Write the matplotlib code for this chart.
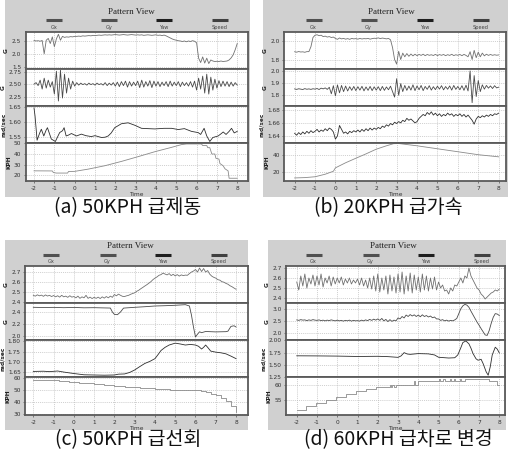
import numpy as np
import matplotlib
matplotlib.use("Agg")
import matplotlib.pyplot as plt
from matplotlib.patches import Rectangle
from matplotlib.lines import Line2D

# ---------------- data ----------------
time_grid = np.round(np.arange(-20, 81) / 10.0, 1)   # -2.0 ... 8.0 s, 0.1 s step
x_ticks = [-2, -1, 0, 1, 2, 3, 4, 5, 6, 7, 8]
channel_names = ["Gx", "Gy", "Yaw", "Speed"]
unit_labels = ["G", "G", "rad/sec", "KPH"]
captions = ["(a) 50KPH 급제동", "(b) 20KPH 급가속", "(c) 50KPH 급선회", "(d) 60KPH 급차로 변경"]

# (a) 50KPH 급제동
a_gx = [2.54, 2.52, 2.53, 2.51, 2.54, 2.02, 2.55, 2.62, 2.42, 2.68,
        2.30, 2.60, 2.78, 2.55, 2.70, 2.66, 2.68, 2.67, 2.69, 2.68,
        2.70, 2.70, 2.71, 2.70, 2.72, 2.71, 2.72, 2.73, 2.72, 2.74,
        2.73, 2.74, 2.75, 2.74, 2.75, 2.76, 2.75, 2.76, 2.75, 2.76,
        2.77, 2.76, 2.75, 2.76, 2.77, 2.76, 2.75, 2.76, 2.77, 2.76,
        2.75, 2.76, 2.75, 2.76, 2.74, 2.75, 2.76, 2.75, 2.74, 2.75,
        2.76, 2.74, 2.75, 2.73, 2.75, 2.72, 2.68, 2.64, 2.60, 2.57,
        2.55, 2.53, 2.52, 2.50, 2.52, 2.49, 2.52, 2.50, 2.53, 2.51,
        2.45, 1.85, 1.68, 1.90, 1.66, 1.85, 1.64, 1.78, 1.74, 1.72,
        1.73, 1.72, 1.74, 1.72, 1.73, 1.74, 1.78, 1.86, 1.98, 2.18,
        2.42]
a_gy = [2.50, 2.53, 2.47, 2.58, 2.40, 2.62, 2.42, 2.58, 2.44, 2.55,
        2.30, 2.76, 2.16, 2.78, 2.22, 2.70, 2.32, 2.62, 2.40, 2.56,
        2.46, 2.53, 2.48, 2.52, 2.49, 2.51, 2.48, 2.52, 2.49, 2.51,
        2.48, 2.52, 2.49, 2.51, 2.48, 2.53, 2.47, 2.52, 2.48, 2.53,
        2.46, 2.54, 2.45, 2.55, 2.47, 2.56, 2.44, 2.55, 2.46, 2.54,
        2.47, 2.56, 2.43, 2.58, 2.44, 2.55, 2.46, 2.57, 2.43, 2.56,
        2.46, 2.55, 2.45, 2.54, 2.47, 2.55, 2.45, 2.56, 2.46, 2.54,
        2.47, 2.55, 2.45, 2.54, 2.47, 2.53, 2.46, 2.55, 2.44, 2.56,
        2.38, 2.62, 2.40, 2.66, 2.32, 2.70, 2.30, 2.64, 2.38, 2.60,
        2.42, 2.57, 2.45, 2.56, 2.46, 2.55, 2.45, 2.54, 2.46, 2.53,
        2.48]
a_yaw_t = [-2.0, -1.95, -1.85, -1.72, -1.64, -1.52, -1.4, -1.34, -1.15, -0.95, -0.74, -0.6,
           -0.52, -0.42, -0.3, -0.16, 0.09, 0.33, 0.55, 0.82, 1.0, 1.32, 1.5, 1.65, 1.8, 1.97,
           2.3, 2.63, 2.96, 3.29, 3.6, 3.95, 4.4, 4.77, 5.1, 5.4, 5.75, 6.08, 6.2, 6.37, 6.5,
           6.65, 6.8, 7.06, 7.2, 7.31, 7.45, 7.6, 7.72, 7.85, 8.0]
a_yaw = [1.646, 1.62, 1.541, 1.565, 1.577, 1.555, 1.575, 1.582, 1.545, 1.537, 1.566, 1.572,
         1.582, 1.555, 1.558, 1.563, 1.555, 1.561, 1.556, 1.553, 1.556, 1.55, 1.551, 1.555, 1.565, 1.582,
         1.595, 1.598, 1.59, 1.58, 1.579, 1.578, 1.58, 1.58, 1.576, 1.579, 1.57, 1.566, 1.56, 1.58, 1.555,
         1.537, 1.55, 1.555, 1.562, 1.568, 1.56, 1.57, 1.58, 1.565, 1.57]
a_spd_t = [-2.0, -1.1, -1.05, -0.9, -0.35, -0.3, 0.0, 0.66, 1.48, 2.3, 3.12, 3.95, 4.77, 5.26,
           5.5, 6.24, 6.3, 6.5, 6.55, 6.65, 6.7, 6.75, 6.9, 6.95, 7.1, 7.15, 7.3, 7.4, 7.55, 7.6, 8.0]
a_spd = [24.1, 24.0, 22.5, 22.0, 22.0, 23.5, 23.6, 25.7, 28.9, 33.0, 37.5, 42.2, 46.3, 48.9,
         49.5, 49.5, 48.0, 48.0, 46.0, 46.0, 43.0, 40.0, 40.0, 36.0, 35.2, 31.0, 29.0, 26.0, 24.1, 17.1, 17.1]

# (b) 20KPH 급가속
b_gx = [1.885, 1.880, 1.887, 1.882, 1.884, 1.879, 1.886, 1.886, 1.940, 2.040,
        2.065, 2.070, 2.060, 2.065, 2.050, 2.055, 2.045, 2.050, 2.040, 2.045,
        2.030, 2.020, 2.035, 2.025, 2.030, 2.022, 2.028, 2.020, 2.030, 2.025,
        2.028, 2.022, 2.030, 2.024, 2.028, 2.026, 2.030, 2.022, 2.028, 2.032,
        2.030, 2.036, 2.028, 2.034, 2.030, 2.025, 2.030, 2.015, 1.930, 1.800,
        1.750, 1.890, 1.800, 1.870, 1.830, 1.865, 1.835, 1.860, 1.840, 1.858,
        1.842, 1.856, 1.845, 1.858, 1.842, 1.855, 1.846, 1.852, 1.844, 1.856,
        1.843, 1.854, 1.846, 1.855, 1.842, 1.853, 1.845, 1.857, 1.843, 1.852,
        1.846, 1.855, 1.842, 1.856, 1.845, 1.830, 1.885, 1.800, 1.900, 1.820,
        1.880, 1.830, 1.870, 1.840, 1.858, 1.845, 1.855, 1.846, 1.852, 1.847,
        1.850]
b_gy = [1.852, 1.848, 1.853, 1.850, 1.847, 1.854, 1.849, 1.852, 1.848, 1.853,
        1.850, 1.855, 1.847, 1.858, 1.852, 1.860, 1.848, 1.865, 1.812, 1.878,
        1.795, 1.885, 1.820, 1.880, 1.830, 1.875, 1.835, 1.870, 1.840, 1.872,
        1.838, 1.870, 1.842, 1.873, 1.836, 1.868, 1.840, 1.872, 1.838, 1.869,
        1.842, 1.870, 1.838, 1.872, 1.840, 1.868, 1.845, 1.874, 1.830, 1.785,
        1.935, 1.800, 1.895, 1.830, 1.880, 1.840, 1.875, 1.842, 1.885, 1.838,
        1.876, 1.845, 1.880, 1.838, 1.872, 1.848, 1.878, 1.842, 1.870, 1.846,
        1.874, 1.850, 1.878, 1.844, 1.871, 1.849, 1.876, 1.842, 1.880, 1.848,
        1.872, 1.845, 1.878, 1.840, 1.882, 1.835, 1.998, 1.740, 1.960, 1.790,
        1.920, 1.830, 1.885, 1.850, 1.880, 1.858, 1.876, 1.855, 1.878, 1.860,
        1.866]
b_yaw = [1.644, 1.641, 1.645, 1.642, 1.646, 1.643, 1.647, 1.644, 1.648, 1.645,
         1.647, 1.650, 1.646, 1.649, 1.647, 1.651, 1.648, 1.652, 1.650, 1.646,
         1.635, 1.640, 1.656, 1.650, 1.644, 1.646, 1.643, 1.647, 1.645, 1.648,
         1.646, 1.649, 1.646, 1.650, 1.647, 1.651, 1.648, 1.652, 1.649, 1.652,
         1.650, 1.653, 1.651, 1.655, 1.653, 1.657, 1.655, 1.659, 1.657, 1.661,
         1.659, 1.662, 1.660, 1.664, 1.662, 1.667, 1.664, 1.666, 1.663, 1.660,
         1.662, 1.667, 1.670, 1.673, 1.671, 1.676, 1.673, 1.677, 1.672, 1.675,
         1.671, 1.674, 1.670, 1.673, 1.671, 1.675, 1.672, 1.674, 1.670, 1.673,
         1.671, 1.674, 1.670, 1.673, 1.669, 1.672, 1.668, 1.664, 1.658, 1.666,
         1.670, 1.668, 1.671, 1.669, 1.672, 1.670, 1.673, 1.671, 1.674, 1.673,
         1.675]
b_spd_t = [-2.0, -1.5, -1.0, -0.5, -0.1, 0.0, 0.5, 1.0, 1.5, 2.0, 2.5, 2.85, 3.1, 4.0, 5.0, 6.0, 7.0, 8.0]
b_spd = [12.6, 13.0, 14.0, 17.0, 20.5, 24.5, 30.5, 35.8, 41.0, 46.5, 50.5, 53.0, 53.2, 50.5, 47.0, 43.5, 40.0, 37.5]

# (c) 50KPH 급선회
c_gx = [2.470, 2.462, 2.475, 2.465, 2.472, 2.460, 2.474, 2.463, 2.470, 2.458,
        2.468, 2.455, 2.466, 2.452, 2.470, 2.455, 2.462, 2.450, 2.466, 2.452,
        2.458, 2.445, 2.462, 2.440, 2.455, 2.445, 2.470, 2.440, 2.452, 2.438,
        2.450, 2.440, 2.452, 2.438, 2.455, 2.442, 2.458, 2.445, 2.462, 2.450,
        2.478, 2.465, 2.482, 2.470, 2.460, 2.458, 2.465, 2.470, 2.480, 2.488,
        2.495, 2.510, 2.520, 2.535, 2.548, 2.562, 2.575, 2.590, 2.605, 2.625,
        2.640, 2.652, 2.668, 2.675, 2.690, 2.680, 2.672, 2.685, 2.665, 2.678,
        2.662, 2.675, 2.660, 2.672, 2.665, 2.670, 2.668, 2.685, 2.700, 2.710,
        2.725, 2.700, 2.740, 2.705, 2.735, 2.700, 2.715, 2.680, 2.660, 2.648,
        2.640, 2.625, 2.620, 2.605, 2.600, 2.588, 2.580, 2.565, 2.555, 2.542,
        2.530]
c_gy_t = [-2.0, -1.5, -1.0, -0.5, 0.0, 0.5, 1.0, 1.5, 1.8, 1.9, 2.0, 2.15, 2.3, 2.45, 3.0, 3.5,
          4.0, 4.5, 5.0, 5.5, 5.7, 5.8, 5.9, 6.0, 6.1, 6.2, 6.3, 6.5, 7.0, 7.5, 7.6, 7.75, 7.9, 8.0]
c_gy = [2.478, 2.475, 2.477, 2.472, 2.476, 2.470, 2.472, 2.468, 2.466, 2.40, 2.36, 2.355, 2.40, 2.465,
        2.478, 2.488, 2.50, 2.505, 2.512, 2.522, 2.50, 2.35, 2.15, 1.985, 2.03, 2.07, 2.055, 2.075,
        2.068, 2.072, 2.08, 2.16, 2.17, 2.15]
c_yaw_t = [-2.0, -1.5, -1.2, -0.8, -0.5, 0.0, 0.5, 1.0, 1.5, 2.0, 2.2, 2.5, 2.75, 3.0, 3.25, 3.5,
           3.75, 4.0, 4.15, 4.3, 4.5, 4.7, 5.0, 5.25, 5.5, 5.75, 6.0, 6.15, 6.3, 6.4, 6.5, 6.6,
           6.75, 7.0, 7.25, 7.5, 7.75, 8.0]
c_yaw = [1.655, 1.656, 1.654, 1.657, 1.652, 1.645, 1.639, 1.638, 1.637, 1.638, 1.642, 1.643, 1.650,
         1.662, 1.678, 1.693, 1.703, 1.716, 1.735, 1.755, 1.770, 1.781, 1.790, 1.786, 1.781, 1.784,
         1.781, 1.775, 1.762, 1.770, 1.781, 1.770, 1.752, 1.747, 1.744, 1.739, 1.728, 1.716]
c_spd_t = [-2.0, -1.75, -1.5, -1.25, -1.0, -0.75, -0.5, -0.25, 0.0, 0.25, 0.5, 0.75, 1.0, 1.25,
           1.5, 1.75, 2.0, 2.25, 2.5, 2.75, 3.0, 3.25, 3.5, 3.75, 4.0, 4.25, 4.5, 4.75, 5.0, 5.25,
           5.5, 5.75, 6.0, 6.25, 6.5, 6.75, 7.0, 7.25, 7.5, 7.75, 8.0]
c_spd = [58.2, 58.2, 58.0, 58.0, 57.7, 57.4, 57.0, 56.7, 56.3, 56.0, 55.7, 55.3, 54.9, 54.6,
         54.2, 53.8, 53.3, 53.0, 52.7, 52.4, 52.0, 51.7, 51.4, 51.1, 50.8, 50.6, 50.4, 50.2, 50.0,
         49.9, 49.8, 49.6, 49.5, 48.9, 48.1, 46.9, 45.4, 43.3, 40.5, 36.5, 31.6]

# (d) 60KPH 급차로 변경
d_gx = [2.56, 2.48, 2.62, 2.52, 2.64, 2.50, 2.60, 2.54, 2.63, 2.52,
        2.62, 2.53, 2.64, 2.51, 2.60, 2.55, 2.62, 2.52, 2.61, 2.54,
        2.60, 2.55, 2.61, 2.53, 2.59, 2.55, 2.60, 2.54, 2.58, 2.55,
        2.59, 2.53, 2.60, 2.52, 2.58, 2.50, 2.60, 2.49, 2.62, 2.47,
        2.64, 2.46, 2.60, 2.48, 2.62, 2.44, 2.63, 2.47, 2.61, 2.45,
        2.64, 2.46, 2.66, 2.44, 2.62, 2.47, 2.65, 2.45, 2.63, 2.48,
        2.61, 2.46, 2.64, 2.48, 2.62, 2.47, 2.60, 2.49, 2.61, 2.48,
        2.56, 2.50, 2.53, 2.47, 2.48, 2.44, 2.50, 2.47, 2.53, 2.52,
        2.56, 2.60, 2.55, 2.62, 2.60, 2.70, 2.62, 2.58, 2.54, 2.50,
        2.48, 2.44, 2.42, 2.39, 2.41, 2.43, 2.45, 2.46, 2.48, 2.47,
        2.49]
d_gy = [2.54, 2.52, 2.55, 2.53, 2.54, 2.51, 2.54, 2.52, 2.55, 2.53,
        2.52, 2.54, 2.51, 2.53, 2.50, 2.53, 2.51, 2.54, 2.52, 2.50,
        2.53, 2.50, 2.52, 2.49, 2.52, 2.50, 2.53, 2.49, 2.52, 2.50,
        2.51, 2.49, 2.53, 2.50, 2.54, 2.51, 2.56, 2.52, 2.57, 2.53,
        2.58, 2.52, 2.60, 2.50, 2.56, 2.47, 2.55, 2.48, 2.53, 2.50,
        2.62, 2.58, 2.68, 2.62, 2.74, 2.68, 2.76, 2.70, 2.75, 2.68,
        2.74, 2.67, 2.75, 2.68, 2.72, 2.66, 2.70, 2.63, 2.66, 2.58,
        2.58, 2.52, 2.55, 2.50, 2.53, 2.49, 2.52, 2.50, 2.54, 2.60,
        2.80, 3.00, 3.12, 3.18, 3.15, 3.06, 2.90, 2.75, 2.60, 2.45,
        2.32, 2.18, 2.05, 1.92, 1.90, 2.10, 2.40, 2.65, 2.80, 2.78,
        2.72]
d_yaw_t = [-2.0, -1.0, 0.0, 1.0, 2.0, 2.5, 3.0, 3.15, 3.3, 3.45, 3.6, 4.0, 4.5, 4.8, 5.0, 5.5,
           5.8, 5.95, 6.1, 6.2, 6.35, 6.5, 6.6, 6.7, 6.85, 6.95, 7.1, 7.2, 7.35, 7.45, 7.55,
           7.65, 7.8, 7.9, 8.0]
d_yaw = [1.682, 1.680, 1.676, 1.668, 1.672, 1.665, 1.650, 1.68, 1.748, 1.72, 1.712, 1.728, 1.722,
         1.70, 1.652, 1.636, 1.642, 1.70, 1.85, 1.957, 1.99, 1.93, 1.84, 1.73, 1.62, 1.59, 1.61,
         1.52, 1.35, 1.28, 1.45, 1.70, 1.86, 1.82, 1.74]
d_spd_t = [-2.0, -1.54, -1.05, -0.55, -0.06, 0.43, 0.93, 1.42, 1.91, 2.6, 2.66, 2.72, 2.78, 2.9,
           3.8, 3.86, 3.97, 5.0, 5.08, 5.2, 5.3, 5.55, 5.62, 5.75, 5.82, 6.05, 6.12, 6.3, 7.5, 7.9, 8.0]
d_spd = [52.0, 53.1, 54.1, 55.0, 56.0, 57.0, 57.9, 58.7, 59.2, 60.0, 59.2, 60.0, 59.2, 60.0,
         61.1, 60.0, 61.1, 61.9, 61.1, 61.9, 61.1, 61.9, 61.1, 61.9, 61.1, 61.9, 61.1, 61.9, 61.1, 60.0, 60.0]

# ---------------- layout / style ----------------
W, H = 515, 450
BG = "#d0d0d0"
LINE_COLORS = ["#707070", "#4a4a4a", "#2e2e2e", "#8a8a8a"]
LEG_COLORS = ["#505050", "#505050", "#1e1e1e", "#404040"]


def frac_rect(x0, y0, x1, y1):
    return [x0 / W, 1 - y1 / H, (x1 - x0) / W, (y1 - y0) / H]


fig = plt.figure(figsize=(W / 100, H / 100), dpi=100)
fig.patch.set_facecolor("white")

panels = [
    dict(bg=(5, 0, 250, 197), px=(25.5, 248), rows=[32, 68.7, 106, 143, 181],
         xlim=(-2.42, 8.53), title=(131, 11.5), bar_y=20, lab_y=27.5,
         bars=[54, 109, 164, 220], cap=(128, 208),
         series=[(time_grid, a_gx, None), (time_grid, a_gy, None),
                 (a_yaw_t, a_yaw, None), (a_spd_t, a_spd, None)],
         ylims=[(1.44, 2.87), (2.06, 2.81), (1.532, 1.653), (14.5, 50.4)],
         yticks=[([1.5, 2.0, 2.5], ["1.5", "2.0", "2.5"]),
                 ([2.25, 2.5, 2.75], ["2.25", "2.50", "2.75"]),
                 ([1.55, 1.60, 1.65], ["1.55", "1.60", "1.65"]),
                 ([20, 30, 40, 50], ["20", "30", "40", "50"])]),
    dict(bg=(263, 0, 508, 197), px=(284, 506), rows=[32, 68.7, 106, 143, 181],
         xlim=(-2.52, 8.36), title=(391, 11.5), bar_y=20, lab_y=27.5,
         bars=[313.5, 368.5, 424.5, 480.5], cap=(388, 208),
         series=[(time_grid, b_gx, None), (time_grid, b_gy, None),
                 (time_grid, b_yaw, None), (b_spd_t, b_spd, None)],
         ylims=[(1.70, 2.10), (1.713, 2.016), (1.629, 1.686), (9, 53.8)],
         yticks=[([1.8, 2.0], ["1.8", "2.0"]),
                 ([1.8, 1.9, 2.0], ["1.8", "1.9", "2.0"]),
                 ([1.64, 1.66, 1.68], ["1.64", "1.66", "1.68"]),
                 ([20, 40], ["20", "40"])]),
    dict(bg=(5, 240, 248, 430), px=(25, 248), rows=[266, 302.7, 340, 377.3, 414.7],
         xlim=(-2.41, 8.59), title=(130, 245.7), bar_y=255, lab_y=261.5,
         bars=[50.8, 107.5, 162.5, 218.5], cap=(128, 440),
         series=[(time_grid, c_gx, None), (c_gy_t, c_gy, None),
                 (c_yaw_t, c_yaw, None), (c_spd_t, c_spd, "steps-post")],
         ylims=[(2.397, 2.76), (1.933, 2.555), (1.627, 1.805), (29.5, 60.3)],
         yticks=[([2.4, 2.5, 2.6, 2.7], ["2.4", "2.5", "2.6", "2.7"]),
                 ([2.0, 2.2, 2.4], ["2.0", "2.2", "2.4"]),
                 ([1.65, 1.70, 1.75, 1.80], ["1.65", "1.70", "1.75", "1.80"]),
                 ([30, 40, 50, 60], ["30", "40", "50", "60"])]),
    dict(bg=(268, 240, 506, 430), px=(286, 505), rows=[266, 302.7, 340, 377.3, 414.7],
         xlim=(-2.53, 8.28), title=(393, 245.7), bar_y=255, lab_y=261.5,
         bars=[313.5, 370.5, 425.5, 481.5], cap=(398, 440),
         series=[(time_grid, d_gx, None), (time_grid, d_gy, None),
                 (d_yaw_t, d_yaw, None), (d_spd_t, d_spd, "steps-post")],
         ylims=[(2.353, 2.72), (1.71, 3.25), (1.236, 2.01), (50.4, 62.4)],
         yticks=[([2.4, 2.5, 2.6, 2.7], ["2.4", "2.5", "2.6", "2.7"]),
                 ([2.0, 2.5, 3.0], ["2.0", "2.5", "3.0"]),
                 ([1.25, 1.50, 1.75, 2.00], ["1.25", "1.50", "1.75", "2.00"]),
                 ([55, 60], ["55", "60"])]),
]

for pi, p in enumerate(panels):
    bx0, by0, bx1, by1 = p["bg"]
    fig.patches.append(Rectangle((bx0 / W, 1 - by1 / H), (bx1 - bx0) / W, (by1 - by0) / H,
                                 transform=fig.transFigure, facecolor=BG, edgecolor="none",
                                 zorder=-10))
    # title + legend
    fig.text(p["title"][0] / W, 1 - p["title"][1] / H, "Pattern View", ha="center", va="center",
             fontsize=6.5, family="Liberation Serif", color="#222222")
    for k, bxc in enumerate(p["bars"]):
        fig.add_artist(Line2D([(bxc - 8) / W, (bxc + 8) / W], [1 - p["bar_y"] / H] * 2,
                              transform=fig.transFigure, color=LEG_COLORS[k], lw=2.2,
                              solid_capstyle="butt"))
        fig.text(bxc / W, 1 - p["lab_y"] / H, channel_names[k], ha="center", va="center",
                 fontsize=3.6, color="#444444")
    x0, x1 = p["px"]
    rows = p["rows"]
    for k in range(4):
        ax = fig.add_axes(frac_rect(x0, rows[k], x1, rows[k + 1]))
        ax.set_zorder(5)
        ax.set_facecolor("white")
        tx, vy, ds = p["series"][k]
        ax.plot(tx, vy, color=LINE_COLORS[k], lw=0.6, drawstyle=ds if ds else "default")
        ax.set_xlim(*p["xlim"])
        ax.set_ylim(*p["ylims"][k])
        ax.set_xticks(x_ticks)
        yt, yl = p["yticks"][k]
        ax.set_yticks(yt)
        ax.set_yticklabels(yl)
        ax.grid(True, color="#bdbdbd", lw=0.5, ls=(0, (1.5, 1.5)))
        ax.tick_params(axis="y", labelsize=4.2, length=1.5, width=0.4, pad=1.5,
                       colors="#333333")
        ax.tick_params(axis="x", length=1.5, width=0.4, pad=2, colors="#333333")
        ax.set_ylabel(unit_labels[k], fontsize=4.2, fontweight="bold", labelpad=2,
                      color="#222222")
        for s in ax.spines.values():
            s.set_color("#5a5a5a")
            s.set_linewidth(1.3)
        if k == 3:
            ax.set_xticklabels([str(v) for v in x_ticks], fontsize=4.2)
            ax.set_xlabel("Time", fontsize=4.2, labelpad=1, color="#333333")
        else:
            ax.tick_params(axis="x", labelbottom=False, length=0)
    fig.text(p["cap"][0] / W, 1 - p["cap"][1] / H, captions[pi], ha="center", va="center",
             fontsize=14, family=["Noto Sans CJK KR", "DejaVu Sans"], color="#111111")

fig.savefig("out.png", dpi=100)
